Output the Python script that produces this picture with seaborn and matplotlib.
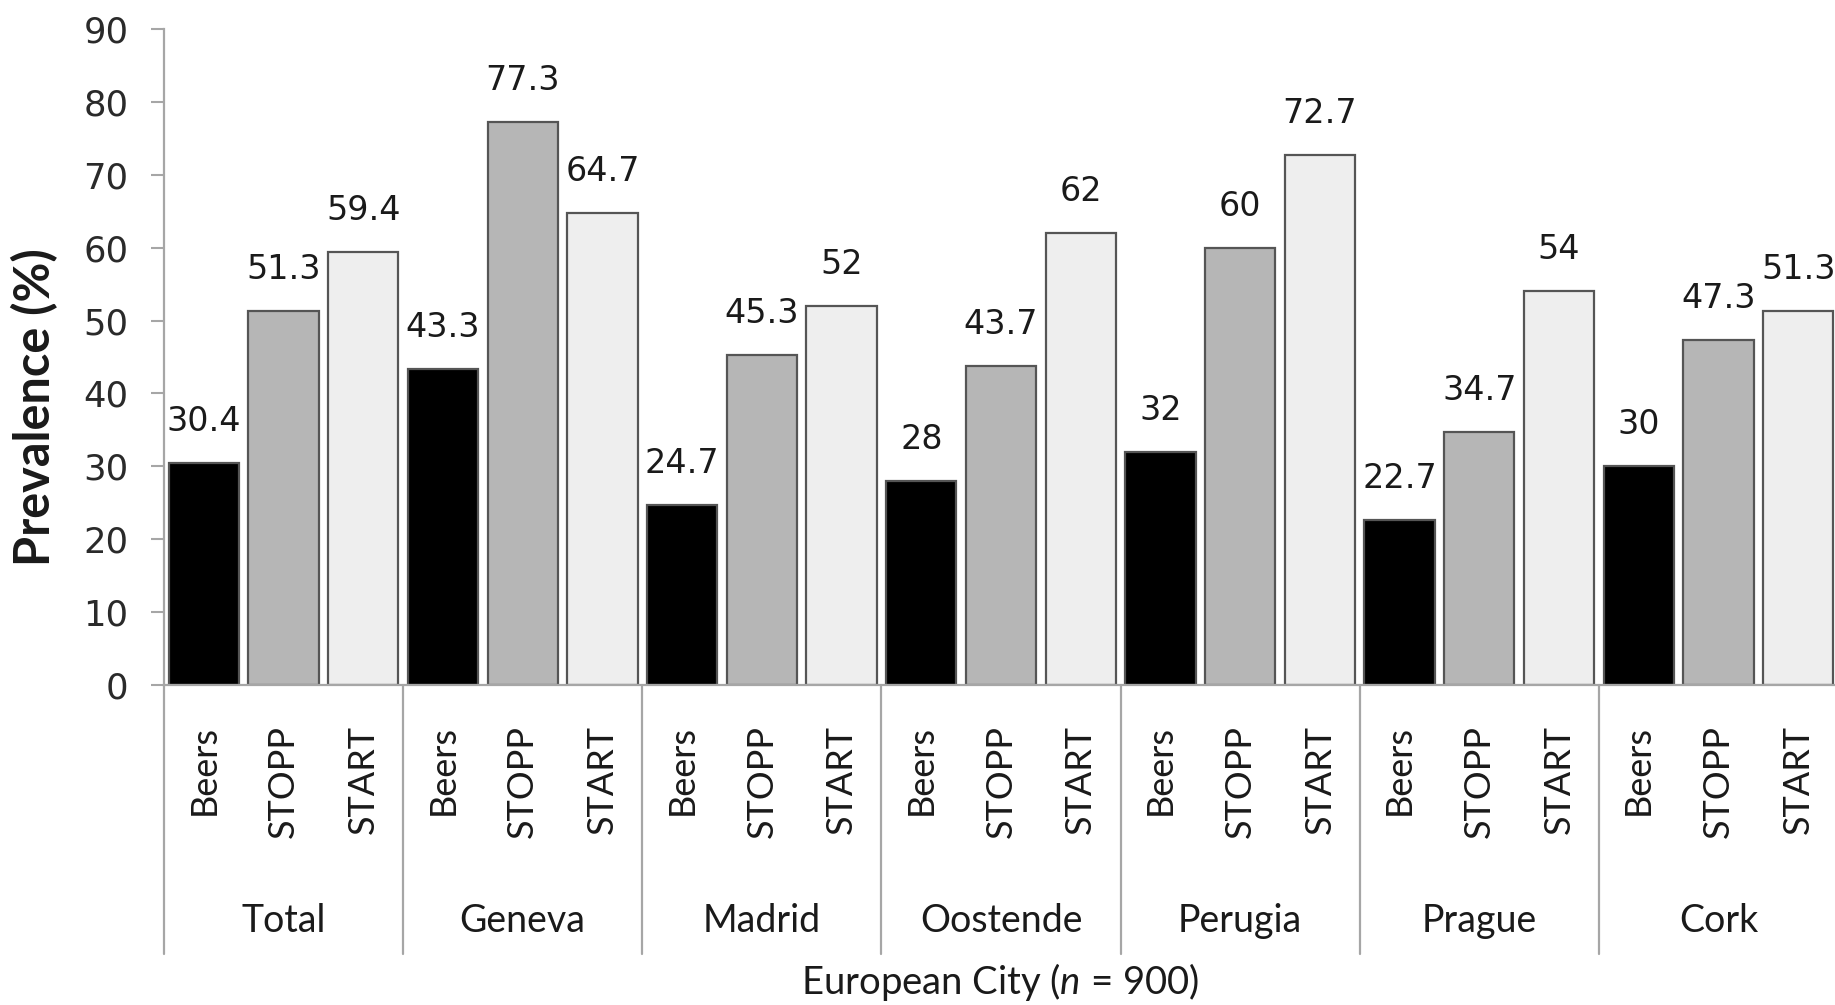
import numpy as np
import pandas as pd
import matplotlib
matplotlib.use("Agg")
import matplotlib.pyplot as plt
import matplotlib.transforms as mtransforms
import seaborn as sns

# Prevalence (%) of potentially inappropriate prescribing by criteria set and city
cities = ["Total", "Geneva", "Madrid", "Oostende", "Perugia", "Prague", "Cork"]
criteria = ["Beers", "STOPP", "START"]
beers = [30.4, 43.3, 24.7, 28, 32, 22.7, 30]
stopp = [51.3, 77.3, 45.3, 43.7, 60, 34.7, 47.3]
start = [59.4, 64.7, 52, 62, 72.7, 54, 51.3]
y_ticks = [0, 10, 20, 30, 40, 50, 60, 70, 80, 90]

df = pd.DataFrame({
    "city": np.repeat(cities, 3),
    "criteria": criteria * len(cities),
    "value": [v for trio in zip(beers, stopp, start) for v in trio],
})

sns.set_style("white")
plt.rcParams["font.family"] = ["Lato", "DejaVu Sans"]
plt.rcParams["mathtext.fontset"] = "custom"
plt.rcParams["mathtext.rm"] = "Lato"
plt.rcParams["mathtext.it"] = "Lato:italic"

W, H = 1835, 1005
fig = plt.figure(figsize=(W / 100, H / 100), dpi=100)
x0, x1, ytop, ybot = 164, 1838, 29, 685
ax = fig.add_axes([x0 / W, 1 - ybot / H, (x1 - x0) / W, (ybot - ytop) / H])

palette = {"Beers": "#000000", "STOPP": "#b6b6b6", "START": "#eeeeee"}
sns.barplot(data=df, x="city", y="value", hue="criteria", order=cities,
            hue_order=criteria, palette=palette, width=1.0, gap=0.12,
            saturation=1, edgecolor="#555555", linewidth=1.6,
            legend=False, ax=ax)

# value labels above each bar
for cont in ax.containers:
    vals = [b.get_height() for b in cont]
    ax.bar_label(cont, labels=[f"{v:g}" for v in vals], padding=18,
                 fontsize=24, color="#1a1a1a", family="DejaVu Sans")

ax.set_xlim(-0.5, len(cities) - 0.5)
ax.set_ylim(0, 90)
ax.set_yticks(y_ticks)
ax.set_yticklabels([str(t) for t in y_ticks], family="DejaVu Sans",
                   fontsize=25.5, color="#2a2a2a")
ax.tick_params(axis="y", length=9.5, width=1.5, color="#a6a6a6", pad=16,
               left=True)

# criteria names under each bar
pos = [i + (j - 1) / 3 for i in range(len(cities)) for j in range(3)]
ax.set_xticks(pos)
ax.set_xticklabels(criteria * len(cities), rotation=90, fontsize=26,
                   color="#1a1a1a")
ax.tick_params(axis="x", length=0, pad=29)
ax.set_xlabel("")
ax.set_ylabel("")

for side in ("top", "right"):
    ax.spines[side].set_visible(False)
for side in ("left", "bottom"):
    ax.spines[side].set_color("#a6a6a6")
    ax.spines[side].set_linewidth(1.6)

blend = mtransforms.blended_transform_factory(ax.transData, ax.transAxes)
for b in np.arange(-0.5, len(cities), 1.0):
    ax.plot([b, b], [0, -0.41], transform=blend, color="#a6a6a6",
            lw=1.6, clip_on=False)
for i, c in enumerate(cities):
    ax.text(i, -0.36, c, transform=blend, ha="center", va="center",
            fontsize=27, color="#1a1a1a")

fig.text(1000 / W, 2 / H, r"European City ($n$ = 900)",
         ha="center", va="bottom", fontsize=27.5, color="#1a1a1a")
fig.text(35 / W, 1 - 407 / H, "Prevalence (%)", rotation=90,
         ha="center", va="center", fontsize=35, fontweight="bold",
         color="#1a1a1a")

fig.savefig("out.png", dpi=100)
